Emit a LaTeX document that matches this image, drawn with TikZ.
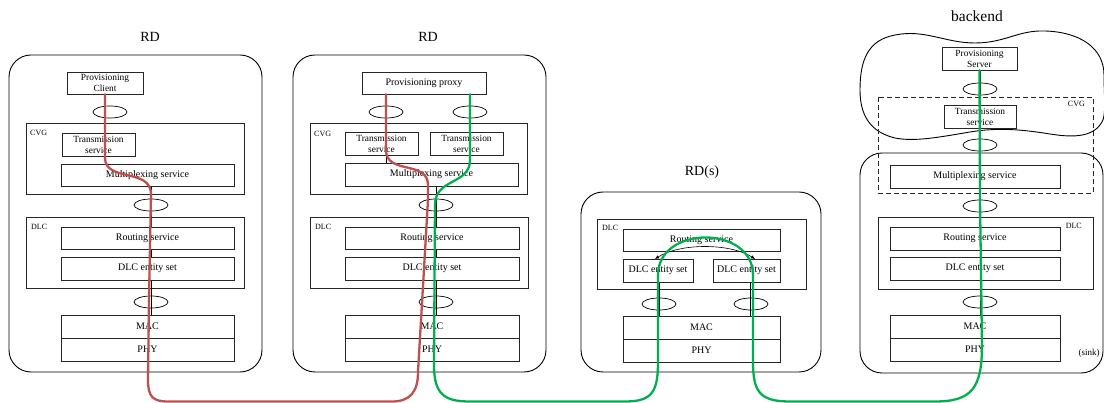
\documentclass[tikz,border=0pt]{standalone}
\usepackage{fontspec}
\setmainfont{Liberation Serif}
\usetikzlibrary{arrows.meta,shapes.geometric}
\definecolor{redl}{HTML}{C0504D}
\definecolor{greenl}{HTML}{00B050}
\begin{document}
\begin{tikzpicture}[x=1pt,y=-1pt,
  dev/.style={draw=black, line width=0.9pt, rounded corners=22pt},
  grp/.style={draw=black!85, line width=0.7pt},
  blk/.style={draw=black!85, fill=white, line width=0.7pt, inner sep=0pt,
    font=\fontsize{10}{11}\selectfont, align=center},
  blktwo/.style={blk, font=\fontsize{9.4}{11}\selectfont},
  sap/.style={draw=black, line width=0.7pt, ellipse, minimum width=34pt,
    minimum height=12pt, inner sep=0pt},
  ttl/.style={font=\fontsize{14}{16}\selectfont, inner sep=0pt, anchor=base},
  lab/.style={font=\fontsize{8}{9}\selectfont, inner sep=0pt},
  cn/.style={draw=black, line width=0.7pt},
  redp/.style={draw=redl, line width=2.3pt, line cap=round},
  greenp/.style={draw=greenl, line width=2.3pt, line cap=round}]
\useasboundingbox (0,0) rectangle (1104,403);

% ---------------- containers ----------------
\draw[dev] (9,55) rectangle (262,372);
\draw[dev] (293,55) rectangle (546,372);
\draw[dev] (581,192) rectangle (821,372);
\draw[dev] (860,153) rectangle (1103,373);
% cloud
\draw[line width=0.9pt] (1103,120)
  .. controls (1095,137) and (1075,138) .. (1050,134)
  .. controls (1025,130) and (1000,127) .. (970,132)
  .. controls (940,137) and (915,142) .. (895,138)
  .. controls (870,132) and (860,115) .. (860,90)
  .. controls (860,60) and (868,40) .. (895,35)
  .. controls (925,29) and (945,43) .. (975,43)
  .. controls (1005,43) and (1018,30) .. (1045,31)
  .. controls (1080,32) and (1104,48) .. (1104,75)
  .. controls (1104,95) and (1106,110) .. (1103,120) -- cycle;

\draw[grp] (26,123) rectangle (244,194);
\draw[grp] (26,217) rectangle (244,288);
\draw[grp] (310,123) rectangle (527,194);
\draw[grp] (310,217) rectangle (528,288);
\draw[grp] (597,219) rectangle (806,289);
\draw[grp, dash pattern=on 5pt off 3pt] (878,97) rectangle (1093,193);
\draw[grp] (878,217) rectangle (1093,289);

% titles and labels
\node[ttl] (t1) at (150,42) {RD};
\node[ttl] (t2) at (428,42) {RD};
\node[ttl] (t3) at (702,176) {RD(s)};
\node[ttl, font=\fontsize{15.5}{17}\selectfont] (t4) at (977,22) {backend};
\node[lab, anchor=base west] (l1a) at (30,136) {CVG};
\node[lab, anchor=base west] (l1b) at (31,230) {DLC};
\node[lab, anchor=base west] (l2a) at (314,137) {CVG};
\node[lab, anchor=base west] (l2b) at (315,230) {DLC};
\node[lab, anchor=base west] (l3b) at (602,231) {DLC};
\node[lab, anchor=base east] (l4a) at (1085,107) {CVG};
\node[lab, anchor=base east] (l4b) at (1082,229) {DLC};
\node[lab, anchor=base, font=\fontsize{9}{10}\selectfont] (sink) at (1089,356) {(sink)};

% ellipses (SAPs)
\node[sap] (e1a) at (110,112) {};
\node[sap] (e1b) at (151,205) {};
\node[sap] (e1c) at (151,302) {};
\node[sap] (e2a) at (386,112) {};
\node[sap] (e2b) at (470,112) {};
\node[sap] (e2c) at (436,205) {};
\node[sap] (e2d) at (436,302) {};
\node[sap] (e3a) at (659,304) {};
\node[sap] (e3b) at (751,304) {};
\node[sap] (e4a) at (980,89) {};
\node[sap] (e4b) at (980,145) {};
\node[sap] (e4c) at (980,206) {};
\node[sap] (e4d) at (980,302) {};

% ---------------- black connectors (drawn under the boxes) ----------------
\coordinate (c1t) at (151,186);
\coordinate (c1b) at (151,280);
\coordinate (c1m) at (151,315);
\draw[cn] (c1t) -- (c1b);
\draw[cn] (c1b) -- (c1m);
\coordinate (c2a) at (386,155);
\coordinate (c2b) at (386,163);
\draw[cn] (c2a) -- (c2b);
\coordinate (c2t) at (436,186);
\coordinate (c2m) at (436,315);
\draw[cn] (c2t) -- (c2m);
\coordinate (c3a) at (659,282);
\coordinate (c3b) at (659,316);
\coordinate (c3c) at (750,282);
\coordinate (c3d) at (750,316);
\draw[cn] (c3a) -- (c3b);
\draw[cn] (c3c) -- (c3d);
\coordinate (c4t) at (980,70);
\coordinate (c4m) at (980,315);
\draw[cn] (c4t) -- (c4m);

% ---------------- boxes ----------------
% device 1
\node[blktwo, minimum width=76pt, minimum height=22pt] (client) at (105,83) {Provisioning\\Client};
\node[blktwo, minimum width=73pt, minimum height=23pt] (trans1) at (98.5,144.5) {Transmission\\service};
\node[blk, minimum width=173pt, minimum height=22pt] (mux1) at (147.5,175) {Multiplexing service};
\node[blk, minimum width=173pt, minimum height=22pt] (rout1) at (147.5,238) {Routing service};
\node[blk, minimum width=173pt, minimum height=23pt] (ent1) at (147.5,268.5) {DLC entity set};
\node[blk, minimum width=173pt, minimum height=23pt] (mac1) at (147.5,326.5) {MAC};
\node[blk, minimum width=173pt, minimum height=23pt] (phy1) at (147.5,349.5) {PHY};
% device 2
\node[blk, minimum width=124pt, minimum height=22pt] (proxy) at (424,83) {Provisioning proxy};
\node[blktwo, minimum width=73pt, minimum height=23pt] (trans2a) at (381.5,143.5) {Transmission\\service};
\node[blktwo, minimum width=73pt, minimum height=23pt] (trans2b) at (466.5,143.5) {Transmission\\service};
\node[blk, minimum width=173pt, minimum height=23pt] (mux2) at (431.5,174.5) {Multiplexing service};
\node[blk, minimum width=174pt, minimum height=22pt] (rout2) at (432,238) {Routing service};
\node[blk, minimum width=174pt, minimum height=23pt] (ent2) at (432,268.5) {DLC entity set};
\node[blk, minimum width=174pt, minimum height=23pt] (mac2) at (432,326.5) {MAC};
\node[blk, minimum width=174pt, minimum height=23pt] (phy2) at (432,349.5) {PHY};
% device 3
\node[blk, minimum width=157pt, minimum height=22pt] (rout3) at (701.5,240) {Routing service};
\node[blk, minimum width=70pt, minimum height=23pt] (ent3a) at (658,270.5) {DLC entity set};
\node[blk, minimum width=67pt, minimum height=23pt] (ent3b) at (746.5,270.5) {DLC entity set};
\node[blk, minimum width=157pt, minimum height=23pt] (mac3) at (701.5,327.5) {MAC};
\node[blk, minimum width=157pt, minimum height=23pt] (phy3) at (701.5,350.5) {PHY};
% device 4
\node[blktwo, minimum width=75pt, minimum height=23pt] (server) at (979.5,58.5) {Provisioning\\Server};
\node[blktwo, minimum width=72pt, minimum height=23pt] (trans4) at (980,116.5) {Transmission\\service};
\node[blk, minimum width=170pt, minimum height=23pt] (mux4) at (975,176.5) {Multiplexing service};
\node[blk, minimum width=170pt, minimum height=23pt] (rout4) at (975,238.5) {Routing service};
\node[blk, minimum width=170pt, minimum height=23pt] (ent4) at (975,268.5) {DLC entity set};
\node[blk, minimum width=170pt, minimum height=23pt] (mac4) at (975,326.5) {MAC};
\node[blk, minimum width=170pt, minimum height=23pt] (phy4) at (975,349.5) {PHY};

% routing arrow in RD(s)
\coordinate (a3l) at (655,259);
\coordinate (a3r) at (755,259);
\draw[cn, line width=0.6pt, {Latex[length=4pt,width=3.5pt]}-{Latex[length=4pt,width=3.5pt]}]
  (a3l) .. controls (680,243) and (730,243) .. (a3r);

% ---------------- flows ----------------
\draw[redp] (client.south) -- (105,158)
  .. controls (105,182) and (151,168) .. (151,194)
  -- (149,300) -- (148,380)
  .. controls (148,397) and (153,401.5) .. (168,401.5)
  -- (392,401.5)
  .. controls (410,401.5) and (418,392) .. (418,372)
  -- (428,200) -- (428,185)
  .. controls (428,160) and (386,175) .. (386,150)
  -- (proxy.south -| e2a);

\draw[greenp] (proxy.south -| e2b) -- (470,160)
  .. controls (470,185) and (435,178) .. (435,205)
  -- (434,365)
  .. controls (434,395) and (445,401.5) .. (470,401.5)
  -- (625,401.5)
  .. controls (652,401.5) and (658,392) .. (658,362)
  -- (658,275)
  .. controls (658,225) and (753,225) .. (753,275)
  -- (753,362)
  .. controls (753,392) and (760,401.5) .. (790,401.5)
  -- (935,401.5)
  .. controls (972,401.5) and (982,388) .. (982,345)
  -- (980,200) -- (server.south);
\end{tikzpicture}
\end{document}
